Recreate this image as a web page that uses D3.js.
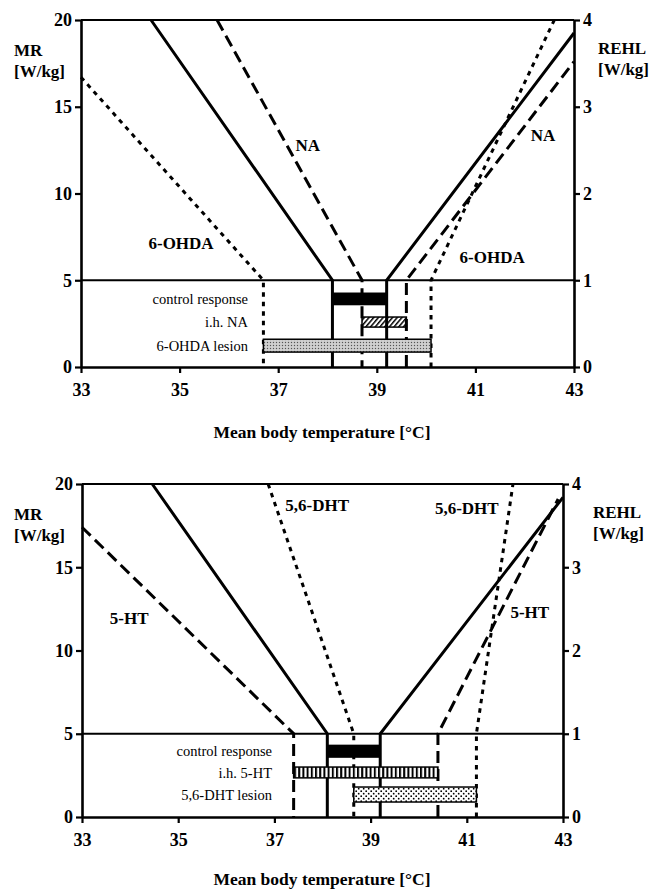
<!DOCTYPE html>
<html>
<head>
<meta charset="utf-8">
<script src="https://cdn.jsdelivr.net/npm/d3@7"></script>
<style>
  body { margin: 0; background: #fff; }
  svg text { font-family: "Liberation Serif", "Times New Roman", Times, serif !important; }
</style>
</head>
<body>
<script>
// shared ticks
const tempTicks = [33, 35, 37, 39, 41, 43];
const mrTicks = [0, 5, 10, 15, 20];
const rehlTicks = [0, 1, 2, 3, 4];

// top panel: [temperature, MR] points
const topControlCold = [[34.42, 20], [38.1, 5], [38.1, 0]];
const topControlHeat = [[39.2, 0], [39.2, 5], [43, 19.25]];
const topNACold = [[35.76, 20], [38.7, 5], [38.7, 0]];
const topNAHeat = [[39.6, 0], [39.6, 5], [43, 17.6]];
const topOhdaCold = [[33, 16.7], [36.7, 5], [36.7, 0]];
const topOhdaHeat = [[40.1, 0], [40.1, 5], [42.6, 20]];
const topBarNames = ["control response", "i.h. NA", "6-OHDA lesion"];
const topBarFrom = [38.1, 38.7, 36.7];
const topBarTo = [39.2, 39.6, 40.1];
const topBarLow = [3.6, 2.3, 0.86];
const topBarHigh = [4.25, 2.88, 1.6];
const topLabels = ["NA", "6-OHDA", "NA", "6-OHDA"];
const topLabelAt = [[37.6, 12.8], [35.03, 7.15], [42.37, 13.37], [41.34, 6.34]];

// bottom panel
const botControlCold = [[34.46, 20], [38.1, 5], [38.1, 0]];
const botControlHeat = [[39.2, 0], [39.2, 5], [43, 19.2]];
const botHTCold = [[33, 17.4], [37.4, 5], [37.4, 0]];
const botHTHeat = [[40.4, 0], [40.4, 5], [42.9, 19.1]];
const botDHTCold = [[36.87, 20], [38.65, 5], [38.65, 0]];
const botDHTHeat = [[41.2, 0], [41.2, 5], [41.96, 20]];
const botBarNames = ["control response", "i.h. 5-HT", "5,6-DHT lesion"];
const botBarFrom = [38.1, 37.4, 38.65];
const botBarTo = [39.2, 40.4, 41.2];
const botBarLow = [3.6, 2.35, 0.9];
const botBarHigh = [4.3, 3.0, 1.8];
const botLabels = ["5-HT", "5,6-DHT", "5,6-DHT", "5-HT"];
const botLabelAt = [[33.98, 11.95], [37.89, 18.74], [41.0, 18.56], [42.31, 12.31]];

const w = 650;
const h = 889;
const serif = '"Liberation Serif", "Times New Roman", Times, serif';

const svg = d3.select("body").append("svg").attr("width", w).attr("height", h);

const defs = svg.append("defs");

// diagonal hatch
defs.append("pattern").attr("id", "hatch")
  .attr("patternUnits", "userSpaceOnUse")
  .attr("width", 3.6).attr("height", 3.6)
  .attr("patternTransform", "rotate(40)")
  .append("rect").attr("width", 1.5).attr("height", 3.6).attr("fill", "#000");

// fine grey stipple
const stip = defs.append("pattern").attr("id", "stipple")
  .attr("patternUnits", "userSpaceOnUse").attr("width", 3).attr("height", 3);
stip.append("rect").attr("width", 3).attr("height", 3).attr("fill", "#c4c4c4");
stip.append("rect").attr("width", 1).attr("height", 1).attr("fill", "#555");
stip.append("rect").attr("x", 1.5).attr("y", 1.5).attr("width", 1).attr("height", 1).attr("fill", "#f4f4f4");

// vertical stripes
const vs = defs.append("pattern").attr("id", "vstripe")
  .attr("patternUnits", "userSpaceOnUse").attr("width", 4.2).attr("height", 4);
vs.append("rect").attr("width", 4.2).attr("height", 4).attr("fill", "#fff");
vs.append("rect").attr("width", 2).attr("height", 4).attr("fill", "#000");

// dots
const dp = defs.append("pattern").attr("id", "dots")
  .attr("patternUnits", "userSpaceOnUse").attr("width", 5).attr("height", 5);
dp.append("rect").attr("width", 5).attr("height", 5).attr("fill", "#fff");
dp.append("circle").attr("cx", 1.2).attr("cy", 1.2).attr("r", 0.9).attr("fill", "#000");
dp.append("circle").attr("cx", 3.7).attr("cy", 3.7).attr("r", 0.9).attr("fill", "#000");

const panels = [
  {
    x0: 81, x1: 574, y0: 367, y1: 20, rehlGap: 24,
    tickY: 396, titleY: 438, labelX: 248,
    lines: [
      { pts: topControlCold, dash: null },
      { pts: topControlHeat, dash: null },
      { pts: topNACold, dash: "12,6" },
      { pts: topNAHeat, dash: "12,6" },
      { pts: topOhdaCold, dash: "4.5,5" },
      { pts: topOhdaHeat, dash: "4.5,5" }
    ],
    barNames: topBarNames, barFrom: topBarFrom, barTo: topBarTo,
    barLow: topBarLow, barHigh: topBarHigh,
    fills: ["#000", "url(#hatch)", "url(#stipple)"],
    labels: topLabels, labelAt: topLabelAt
  },
  {
    x0: 82, x1: 563, y0: 817, y1: 484, rehlGap: 30,
    tickY: 846, titleY: 885, labelX: 272,
    lines: [
      { pts: botControlCold, dash: null },
      { pts: botControlHeat, dash: null },
      { pts: botHTCold, dash: "12,6" },
      { pts: botHTHeat, dash: "12,6" },
      { pts: botDHTCold, dash: "4.5,5" },
      { pts: botDHTHeat, dash: "4.5,5" }
    ],
    barNames: botBarNames, barFrom: botBarFrom, barTo: botBarTo,
    barLow: botBarLow, barHigh: botBarHigh,
    fills: ["#000", "url(#vstripe)", "url(#dots)"],
    labels: botLabels, labelAt: botLabelAt
  }
];

panels.forEach(drawPanel);

function drawPanel(p) {
  const x = d3.scaleLinear().domain([33, 43]).range([p.x0, p.x1]);
  const y = d3.scaleLinear().domain([0, 20]).range([p.y0, p.y1]);
  const y2 = d3.scaleLinear().domain([0, 4]).range([p.y0, p.y1]);

  const g = svg.append("g");

  // top frame line
  g.append("line")
    .attr("x1", p.x0).attr("x2", p.x1)
    .attr("y1", y(20)).attr("y2", y(20))
    .attr("stroke", "#000").attr("stroke-width", 2.2);

  // threshold line at 5 W/kg
  g.append("line")
    .attr("x1", p.x0).attr("x2", p.x1)
    .attr("y1", y(5)).attr("y2", y(5))
    .attr("stroke", "#000").attr("stroke-width", 2);

  const line = d3.line().x(d => x(d[0])).y(d => y(d[1]));

  p.lines.forEach(function (l) {
    g.append("path")
      .attr("d", line(l.pts))
      .attr("fill", "none")
      .attr("stroke", "#000")
      .attr("stroke-width", 3)
      .attr("stroke-dasharray", l.dash);
  });

  // response bars
  p.barNames.forEach(function (name, i) {
    g.append("rect")
      .attr("x", x(p.barFrom[i]))
      .attr("y", y(p.barHigh[i]))
      .attr("width", x(p.barTo[i]) - x(p.barFrom[i]))
      .attr("height", y(p.barLow[i]) - y(p.barHigh[i]))
      .attr("fill", p.fills[i])
      .attr("stroke", "#000")
      .attr("stroke-width", 1.5);

    g.append("text")
      .attr("x", p.labelX)
      .attr("y", y((p.barLow[i] + p.barHigh[i]) / 2))
      .attr("dy", "0.35em")
      .attr("text-anchor", "end")
      .style("font-family", serif)
      .attr("font-size", 14.5)
      .text(name);
  });

  // curve labels
  p.labels.forEach(function (t, i) {
    g.append("text")
      .attr("x", x(p.labelAt[i][0]))
      .attr("y", y(p.labelAt[i][1]))
      .attr("dy", "0.35em")
      .attr("text-anchor", "middle")
      .style("font-family", serif)
      .attr("font-size", 17)
      .attr("font-weight", "bold")
      .text(t);
  });

  // axes
  const xAxis = g.append("g")
    .attr("transform", "translate(0," + p.y0 + ")")
    .call(d3.axisBottom(x).tickValues(tempTicks).tickSize(6).tickSizeOuter(0).tickFormat(d3.format("d")));
  xAxis.selectAll("text").attr("y", p.tickY - p.y0).attr("dy", 0);

  const yAxis = g.append("g")
    .attr("transform", "translate(" + p.x0 + ",0)")
    .call(d3.axisLeft(y).tickValues(mrTicks).tickSize(6).tickSizeOuter(0).tickPadding(3).tickFormat(d3.format("d")));

  const rAxis = g.append("g")
    .attr("transform", "translate(" + p.x1 + ",0)")
    .call(d3.axisRight(y2).tickValues(rehlTicks).tickSize(6).tickSizeOuter(0).tickPadding(3).tickFormat(d3.format("d")));

  [xAxis, yAxis, rAxis].forEach(function (a) {
    a.attr("font-family", serif);
    a.select(".domain").attr("stroke-width", 2.6);
    a.selectAll(".tick line").attr("stroke-width", 2.2);
    a.selectAll("text")
      .style("font-family", serif)
      .attr("font-size", 18)
      .attr("font-weight", "bold")
      .attr("fill", "#000");
  });

  // axis titles
  const titles = [
    ["MR", 14, 36], ["[W/kg]", 14, 57],
    ["REHL", p.x1 + p.rehlGap, 34], ["[W/kg]", p.x1 + p.rehlGap, 55]
  ];
  titles.forEach(function (t) {
    g.append("text").attr("x", t[1]).attr("y", y(20) + t[2])
      .style("font-family", serif)
      .attr("font-size", 17).attr("font-weight", "bold").text(t[0]);
  });

  g.append("text")
    .attr("x", 322).attr("y", p.titleY)
    .attr("text-anchor", "middle")
    .style("font-family", serif)
    .attr("font-size", 17.5).attr("font-weight", "bold")
    .text("Mean body temperature [°C]");
}
</script>
</body>
</html>
